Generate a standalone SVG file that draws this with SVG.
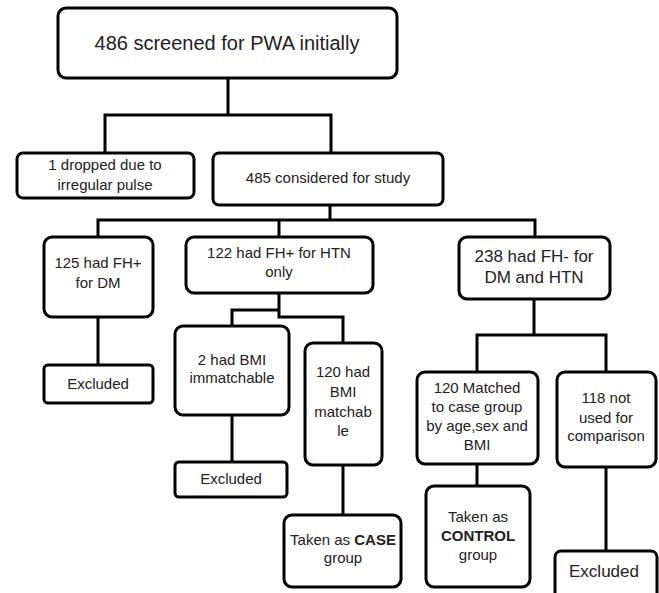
<svg xmlns="http://www.w3.org/2000/svg" width="659" height="593" viewBox="0 0 659 593">
<style>
.b{fill:#fff;stroke:#000;stroke-width:3}
.c{fill:none;stroke:#000;stroke-width:3;stroke-linecap:square}
text{font-family:"Liberation Sans",Arial,sans-serif;font-size:15px;fill:#222;text-anchor:middle}
.L{font-size:17px}
.T{font-size:20px}
.bold{font-weight:bold}
</style>
<rect width="659" height="593" fill="#fff"/>
<g id="connectors">
<path class="c" d="M228 78V115M105 115H331M105 115V153M331 115V153"/>
<path class="c" d="M330 205V220M98 220H535M98 220V237M279 220V237M535 220V237"/>
<path class="c" d="M98 317V365"/>
<path class="c" d="M279 293V317M232 310H279M232 310V326M279 317H343V343"/>
<path class="c" d="M232 415V462"/>
<path class="c" d="M343 465V515"/>
<path class="c" d="M534 299V335M477 335H606M477 335V372M606 335V372"/>
<path class="c" d="M477 464V486"/>
<path class="c" d="M606 467V551"/>
</g>
<g id="n1"><rect class="b" x="58" y="8" width="339" height="70" rx="8"/><text class="T" x="227" y="50">486 screened for PWA initially</text></g>
<g id="n2"><rect class="b" x="17" y="153" width="177" height="45" rx="6"/><text x="105" y="170">1 dropped due to</text><text x="105" y="190">irregular pulse</text></g>
<g id="n3"><rect class="b" x="213" y="153" width="230" height="52" rx="6"/><text x="328" y="183">485 considered for study</text></g>
<g id="n4"><rect class="b" x="44" y="237" width="109" height="80" rx="8"/><text x="98" y="268">125 had FH+</text><text x="98" y="288">for DM</text></g>
<g id="n5"><rect class="b" x="186" y="237" width="187" height="56" rx="8"/><text x="279" y="258">122 had FH+ for HTN</text><text x="279" y="277">only</text></g>
<g id="n6"><rect class="b" x="459" y="237" width="151" height="62" rx="8"/><text class="L" x="534" y="262">238 had FH- for</text><text class="L" x="534" y="283">DM and HTN</text></g>
<g id="n7"><rect class="b" x="44" y="365" width="109" height="38" rx="4"/><text x="98" y="389">Excluded</text></g>
<g id="n8"><rect class="b" x="175" y="326" width="114" height="89" rx="8"/><text x="232" y="365">2 had BMI</text><text x="232" y="383">immatchable</text></g>
<g id="n9"><rect class="b" x="305" y="343" width="77" height="122" rx="8"/><text x="343" y="377">120 had</text><text x="343" y="397">BMI</text><text x="343" y="417">matchab</text><text x="343" y="436">le</text></g>
<g id="n10"><rect class="b" x="175" y="462" width="112" height="35" rx="4"/><text x="231" y="484">Excluded</text></g>
<g id="n11"><rect class="b" x="284" y="515" width="117" height="72" rx="8"/><text x="343" y="545">Taken as <tspan class="bold">CASE</tspan></text><text x="343" y="563">group</text></g>
<g id="n12"><rect class="b" x="417" y="372" width="121" height="92" rx="8"/><text x="477" y="393">120 Matched</text><text x="477" y="412">to case group</text><text x="477" y="431">by age,sex and</text><text x="477" y="450">BMI</text></g>
<g id="n13"><rect class="b" x="557" y="372" width="99" height="95" rx="8"/><text x="606" y="403">118 not</text><text x="606" y="423">used for</text><text x="606" y="441">comparison</text></g>
<g id="n14"><rect class="b" x="426" y="486" width="104" height="101" rx="8"/><text x="478" y="522">Taken as</text><text class="bold" x="478" y="541">CONTROL</text><text x="478" y="560">group</text></g>
<g id="n15"><rect class="b" x="555" y="551" width="102" height="50" rx="6"/><text class="L" x="604" y="577">Excluded</text></g>
</svg>
